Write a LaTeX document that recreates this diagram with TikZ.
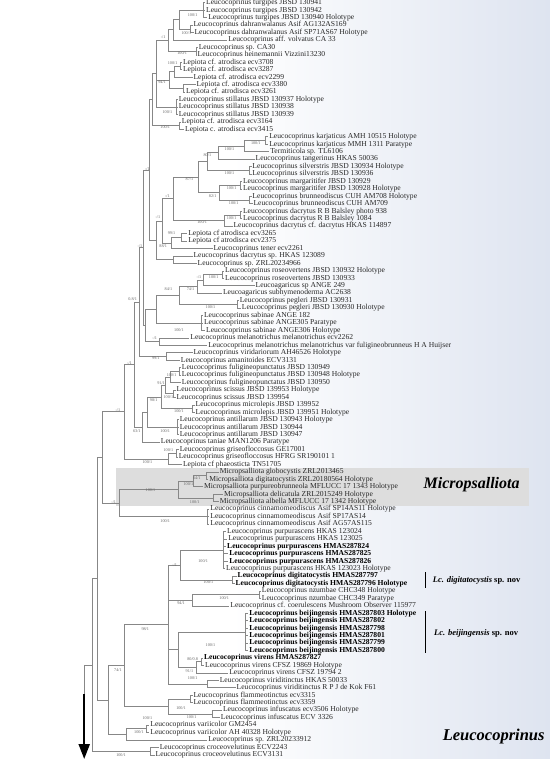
\documentclass[tikz,border=0pt]{standalone}
\usepackage{fontspec}
\setmainfont{Liberation Serif}
\usetikzlibrary{arrows.meta}
\definecolor{bgblue}{RGB}{222,228,240}
\definecolor{boxgray}{RGB}{221,221,221}
\definecolor{linegray}{RGB}{135,135,135}
\definecolor{txtc}{RGB}{40,40,40}
\newcommand\leafN[4]{\node[leaf] (#1) at (#2,#3) {#4};}
\newcommand\leafB[4]{\node[leafb] (#1) at (#2,#3) {#4};}
\newcommand\kidsOf[2]{\foreach \kk in {#2}{\draw[brl] (#1) |- (\kk);}}
\newcommand\supv[4]{\node[supl] (#1) at (#2,#3) {#4};}
\begin{document}
\begin{tikzpicture}[x=1.05263pt,y=-1pt,
 leaf/.style={anchor=west,inner xsep=0.7pt,inner ysep=0pt,text height=5.2pt,text depth=1.4pt,font=\fontsize{7.6}{8}\selectfont,text=txtc},
 leafb/.style={leaf,font=\fontsize{7.6}{8}\selectfont\bfseries,text=black},
 supl/.style={inner sep=0pt,font=\fontsize{4.2}{4.2}\selectfont,text=black!60},
 brl/.style={draw=linegray,line width=0.5pt},
 biglab/.style={inner sep=0pt,font=\fontsize{16}{16}\selectfont\bfseries\itshape,text=black},
 splab/.style={anchor=west,inner sep=0pt,font=\fontsize{8.5}{9}\selectfont\bfseries,text=black},
 bar/.style={line width=1.3pt,draw=black}]
\useasboundingbox (0,0) rectangle (522.5,759);
\fill[white] (0,0) rectangle (522.5,759);
\shade[left color=white,right color=bgblue] (220,0) rectangle (522.5,759);
\fill[boxgray] (110,468) rectangle (503,505.5);
% leaves
\leafN{l1}{195}{2.7}{Leucocoprinus turgipes JBSD 130941}
\leafN{l2}{195}{10.15}{Leucocoprinus turgipes JBSD 130942}
\leafN{l3}{197}{17.59}{Leucocoprinus turgipes JBSD 130940 Holotype}
\leafN{l4}{183}{25.04}{Leucocoprinus dahranwalanus Asif AG132AS169}
\leafN{l5}{184}{32.48}{Leucocoprinus dahranwalanus Asif SP71AS67 Holotype}
\leafN{l6}{216}{39.93}{Leucocoprinus aff. volvatus CA 33}
\leafN{l7}{188}{47.38}{Leucocoprinus sp. CA30}
\leafN{l8}{187}{54.82}{Leucocoprinus heinemannii Vizzini13230}
\leafN{l9}{173}{62.27}{Lepiota cf. atrodisca ecv3708}
\leafN{l10}{173}{69.71}{Lepiota cf. atrodisca ecv3287}
\leafN{l11}{183}{77.16}{Lepiota cf. atrodisca ecv2299}
\leafN{l12}{186}{84.61}{Lepiota cf. atrodisca ecv3380}
\leafN{l13}{176}{92.05}{Lepiota cf. atrodisca ecv3261}
\leafN{l14}{169}{99.5}{Leucocoprinus stillatus JBSD 130937 Holotype}
\leafN{l15}{169}{106.94}{Leucocoprinus stillatus JBSD 130938}
\leafN{l16}{169}{114.39}{Leucocoprinus stillatus JBSD 130939}
\leafN{l17}{172}{121.84}{Lepiota cf. atrodisca ecv3164}
\leafN{l18}{175}{129.28}{Lepiota c. atrodisca ecv3415}
\leafN{l19}{255}{136.73}{Leucocoprinus karjaticus AMH 10515 Holotype}
\leafN{l20}{255}{144.17}{Leucocoprinus karjaticus MMH 1311 Paratype}
\leafN{l21}{256}{151.62}{Termiticola sp. TL6106}
\leafN{l22}{242}{159.07}{Leucocoprinus tangerinus HKAS 50036}
\leafN{l23}{239}{166.51}{Leucocoprinus silverstris JBSD 130934 Holotype}
\leafN{l24}{239}{173.96}{Leucocoprinus silverstris JBSD 130936}
\leafN{l25}{230}{181.4}{Leucocoprinus margaritifer JBSD 130929}
\leafN{l26}{230}{188.85}{Leucocoprinus margaritifer JBSD 130928 Holotype}
\leafN{l27}{239}{196.3}{Leucocoprinus brunneodiscus CUH AM708 Holotype}
\leafN{l28}{240}{203.74}{Leucocoprinus brunneodiscus CUH AM709}
\leafN{l29}{230}{211.19}{Leucocoprinus dacrytus R B Balsley photo 938}
\leafN{l30}{230}{218.63}{Leucocoprinus dacrytus R B Balsley 1084}
\leafN{l31}{221}{226.08}{Leucocoprinus dacrytus cf. dacrytus HKAS 114897}
\leafN{l32}{178}{233.53}{Lepiota cf atrodisca ecv3265}
\leafN{l33}{178}{240.97}{Lepiota cf atrodisca ecv2375}
\leafN{l34}{202}{248.42}{Leucocoprinus tener ecv2261}
\leafN{l35}{183}{255.86}{Leucocoprinus dacrytus sp. HKAS 123089}
\leafN{l36}{187}{263.31}{Leucocoprinus sp. ZRL20234966}
\leafN{l37}{213}{270.76}{Leucocoprinus roseovertens JBSD 130932 Holotype}
\leafN{l38}{213}{278.2}{Leucocoprinus roseovertens JBSD 130933}
\leafN{l39}{242}{285.65}{Leucoagaricus sp ANGE 249}
\leafN{l40}{211}{293.09}{Leucoagaricus subhymenoderma AC2638}
\leafN{l41}{227}{300.54}{Leucocoprinus pegleri JBSD 130931}
\leafN{l42}{229}{307.99}{Leucocoprinus pegleri JBSD 130930 Holotype}
\leafN{l43}{193}{315.43}{Leucocoprinus sabinae ANGE 182}
\leafN{l44}{193}{322.88}{Leucocoprinus sabinae ANGE305 Paratype}
\leafN{l45}{195}{330.32}{Leucocoprinus sabinae ANGE306 Holotype}
\leafN{l46}{180}{337.77}{Leucocoprinus melanotrichus melanotrichus ecv2262}
\leafN{l47}{197}{345.22}{Leucocoprinus melanotrichus melanotrichus var fuligineobrunneus H A Huijser}
\leafN{l48}{183}{352.66}{Leucocoprinus viridariorum AH46526 Holotype}
\leafN{l49}{171}{360.11}{Leucocoprinus amanitoides ECV3131}
\leafN{l50}{172}{367.55}{Leucocoprinus fuligineopunctatus JBSD 130949}
\leafN{l51}{172}{375}{Leucocoprinus fuligineopunctatus JBSD 130948 Holotype}
\leafN{l52}{172}{382.45}{Leucocoprinus fuligineopunctatus JBSD 130950}
\leafN{l53}{167}{389.89}{Leucocoprinus scissus JBSD 139953 Holotype}
\leafN{l54}{167}{397.34}{Leucocoprinus scissus JBSD 139954}
\leafN{l55}{185}{404.78}{Leucocoprinus microlepis JBSD 139952}
\leafN{l56}{185}{412.23}{Leucocoprinus microlepis JBSD 139951 Holotype}
\leafN{l57}{170}{419.68}{Leucocoprinus antillarum JBSD 130943 Holotype}
\leafN{l58}{170}{427.12}{Leucocoprinus antillarum JBSD 130944}
\leafN{l59}{170}{434.57}{Leucocoprinus antillarum JBSD 130947}
\leafN{l60}{152}{442.01}{Leucocoprinus taniae MAN1206 Paratype}
\leafN{l61}{170}{449.46}{Leucocoprinus griseofloccosus GE17001}
\leafN{l62}{169}{456.91}{Leucocoprinus griseofloccosus HFRG SR190101 1}
\leafN{l63}{173}{464.35}{Lepiota cf phaeosticta TN51705}
\leafN{l64}{208}{471.8}{Micropsalliota globocystis ZRL2013465}
\leafN{l65}{198}{479.24}{Micropsalliota digitatocystis ZRL20180564 Holotype}
\leafN{l66}{193}{486.69}{Micropsalliota purpureobrunneola MFLUCC 17 1343 Holotype}
\leafN{l67}{212}{494.14}{Micropsalliota delicatula ZRL2015249 Holotype}
\leafN{l68}{208}{501.58}{Micropsalliota albella MFLUCC 17 1342 Holotype}
\leafN{l69}{199}{509.03}{Leucocoprinus cinnamomeodiscus Asif SP14AS11 Holotype}
\leafN{l70}{199}{516.47}{Leucocoprinus cinnamomeodiscus Asif SP17AS14}
\leafN{l71}{199}{523.92}{Leucocoprinus cinnamomeodiscus Asif AG57AS115}
\leafN{l72}{215}{531.37}{Leucocoprinus purpurascens HKAS 123024}
\leafN{l73}{216}{538.81}{Leucocoprinus purpurascens HKAS 123025}
\leafB{l74}{215}{546.26}{Leucocoprinus purpurascens HMAS287824}
\leafB{l75}{217}{553.7}{Leucocoprinus purpurascens HMAS287825}
\leafB{l76}{217}{561.15}{Leucocoprinus purpurascens HMAS287826}
\leafN{l77}{214}{568.6}{Leucocoprinus purpurascens HKAS 123023 Holotype}
\leafB{l78}{225}{576.04}{Leucocoprinus digitatocystis HMAS287797}
\leafB{l79}{223}{583.49}{Leucocoprinus digitatocystis HMAS287796 Holotype}
\leafN{l80}{248}{590.93}{Leucocoprinus nzumbae CHC348 Holotype}
\leafN{l81}{248}{598.38}{Leucocoprinus nzumbae CHC349 Paratype}
\leafN{l82}{218}{605.83}{Leucocoprinus cf. coerulescens Mushroom Observer 115977}
\leafB{l83}{236}{613.27}{Leucocoprinus beijingensis HMAS287803 Holotype}
\leafB{l84}{236}{620.72}{Leucocoprinus beijingensis HMAS287802}
\leafB{l85}{236}{628.16}{Leucocoprinus beijingensis HMAS287798}
\leafB{l86}{236}{635.61}{Leucocoprinus beijingensis HMAS287801}
\leafB{l87}{236}{643.06}{Leucocoprinus beijingensis HMAS287799}
\leafB{l88}{236}{650.5}{Leucocoprinus beijingensis HMAS287800}
\leafB{l89}{193}{657.95}{Leucocoprinus virens HMAS287827}
\leafN{l90}{194}{665.39}{Leucocoprinus virens CFSZ 19869 Holotype}
\leafN{l91}{217}{672.84}{Leucocoprinus virens CFSZ 19794 2}
\leafN{l92}{208}{680.29}{Leucocoprinus viriditinctus HKAS 50033}
\leafN{l93}{224}{687.73}{Leucocoprinus viriditinctus R P J de Kok F61}
\leafN{l94}{183}{695.18}{Leucocoprinus flammeotinctus ecv3315}
\leafN{l95}{183}{702.62}{Leucocoprinus flammeotinctus ecv3359}
\leafN{l96}{211}{710.07}{Leucocoprinus infuscatus ecv3506 Holotype}
\leafN{l97}{209}{717.52}{Leucocoprinus infuscatus ECV 3326}
\leafN{l98}{142}{724.96}{Leucocoprinus variicolor GM2454}
\leafN{l99}{142}{732.41}{Leucocoprinus variicolor AH 40328 Holotype}
\leafN{l100}{197}{739.85}{Leucocoprinus sp. ZRL20233912}
\leafN{l101}{151}{747.3}{Leucocoprinus croceovelutinus ECV2243}
\leafN{l102}{147}{754.75}{Leucocoprinus croceovelutinus ECV3131}
% internal nodes
\coordinate (turg) at (193,10.15);
\coordinate (dahr) at (181,28.76);
\coordinate (A1) at (170,19.46);
\coordinate (nB) at (165,29.7);
\coordinate (CA) at (186,51.1);
\coordinate (nC) at (160,40.4);
\coordinate (nE) at (171,65.99);
\coordinate (nF) at (166,71.58);
\coordinate (nG) at (174,88.33);
\coordinate (nH) at (161,79.96);
\coordinate (nS) at (167,106.94);
\coordinate (nI) at (148,73.67);
\coordinate (nJ) at (170,125.56);
\coordinate (nK) at (145,99.6);
\coordinate (karj) at (252,140.45);
\coordinate (M1) at (232,146.03);
\coordinate (M2) at (207,152.55);
\coordinate (sil) at (237,170.24);
\coordinate (M3) at (197,161.4);
\coordinate (marg) at (228,185.13);
\coordinate (brun) at (237,200.02);
\coordinate (N1) at (208,192.57);
\coordinate (N2) at (188,176.99);
\coordinate (dac) at (228,214.91);
\coordinate (D2) at (213,220.5);
\coordinate (N3) at (165,198.75);
\coordinate (lep2) at (172,237.25);
\coordinate (ten) at (163,242.84);
\coordinate (N4) at (154,220.8);
\coordinate (O1) at (165,259.59);
\coordinate (O2) at (148,240.2);
\coordinate (nQ) at (142,169.9);
\coordinate (R1) at (211,274.48);
\coordinate (R2) at (193,280.07);
\coordinate (R3) at (187,286.58);
\coordinate (P1) at (225,304.27);
\coordinate (R4) at (170,295.42);
\coordinate (Sab) at (191,322.88);
\coordinate (T1) at (148,309.15);
\coordinate (Me) at (151,341.5);
\coordinate (T2) at (138,325.3);
\coordinate (nX) at (136,247.6);
\coordinate (Vir) at (158,356.39);
\coordinate (nY) at (132,302);
\coordinate (f1) at (170,371.28);
\coordinate (f2) at (162,376.86);
\coordinate (sci) at (165,393.62);
\coordinate (F4) at (157,385.24);
\coordinate (mic) at (183,408.51);
\coordinate (F5) at (153,396.88);
\coordinate (ant) at (168,427.12);
\coordinate (F6) at (140,412);
\coordinate (F7) at (135,427);
\coordinate (Z1) at (128,364.5);
\coordinate (gris) at (167,453.19);
\coordinate (G2) at (160,458.77);
\coordinate (Z2) at (118,411.6);
\coordinate (Mi1) at (196,475.52);
\coordinate (Mi2) at (184,481.1);
\coordinate (Mi3) at (203,497.86);
\coordinate (Mi4) at (169,489.5);
\coordinate (Cin) at (197,516.47);
\coordinate (Mi5) at (113,503);
\coordinate (Z3) at (97,457.3);
\coordinate (Pu) at (212,549.99);
\coordinate (Dig) at (221,579.77);
\coordinate (Pu2) at (171,564.88);
\coordinate (Nz) at (246,594.66);
\coordinate (NzC) at (183,600.25);
\coordinate (Bj) at (233,631.89);
\coordinate (V1) at (191,661.67);
\coordinate (V2) at (186,667.26);
\coordinate (B2) at (169,649.58);
\coordinate (Vt) at (197,684.01);
\coordinate (Bp) at (160,624.45);
\coordinate (Flam) at (181,698.9);
\coordinate (Inf) at (202,713.8);
\coordinate (FI) at (160,706.35);
\coordinate (B6) at (118,665.4);
\coordinate (Var) at (139,728.69);
\coordinate (VarZ) at (120,734.27);
\coordinate (B7) at (103,699.84);
\coordinate (Z4) at (92,578.57);
\coordinate (Cro) at (143,751.03);
\coordinate (Z5) at (88,664.8);
\coordinate (root) at (80,664.8);
\coordinate (arrstart) at (80,694);
\coordinate (arrend) at (80,759);
% branches
\kidsOf{turg}{l1,l2,l3}
\kidsOf{dahr}{l4,l5}
\kidsOf{A1}{turg,dahr}
\kidsOf{nB}{A1,l6}
\kidsOf{CA}{l7,l8}
\kidsOf{nC}{nB,CA}
\kidsOf{nE}{l9,l10}
\kidsOf{nF}{nE,l11}
\kidsOf{nG}{l12,l13}
\kidsOf{nH}{nF,nG}
\kidsOf{nS}{l14,l15,l16}
\kidsOf{nI}{nC,nH,nS}
\kidsOf{nJ}{l17,l18}
\kidsOf{nK}{nI,nJ}
\kidsOf{karj}{l19,l20}
\kidsOf{M1}{karj,l21}
\kidsOf{M2}{M1,l22}
\kidsOf{sil}{l23,l24}
\kidsOf{M3}{M2,sil}
\kidsOf{marg}{l25,l26}
\kidsOf{brun}{l27,l28}
\kidsOf{N1}{marg,brun}
\kidsOf{N2}{M3,N1}
\kidsOf{dac}{l29,l30}
\kidsOf{D2}{dac,l31}
\kidsOf{N3}{N2,D2}
\kidsOf{lep2}{l32,l33}
\kidsOf{ten}{lep2,l34}
\kidsOf{N4}{N3,ten}
\kidsOf{O1}{l35,l36}
\kidsOf{O2}{N4,O1}
\kidsOf{nQ}{nK,O2}
\kidsOf{R1}{l37,l38}
\kidsOf{R2}{R1,l39}
\kidsOf{R3}{R2,l40}
\kidsOf{P1}{l41,l42}
\kidsOf{R4}{R3,P1}
\kidsOf{Sab}{l43,l44,l45}
\kidsOf{T1}{R4,Sab}
\kidsOf{Me}{l46,l47}
\kidsOf{T2}{T1,Me}
\kidsOf{nX}{nQ,T2}
\kidsOf{Vir}{l48,l49}
\kidsOf{nY}{nX,Vir}
\kidsOf{f1}{l50,l51}
\kidsOf{f2}{f1,l52}
\kidsOf{sci}{l53,l54}
\kidsOf{F4}{f2,sci}
\kidsOf{mic}{l55,l56}
\kidsOf{F5}{F4,mic}
\kidsOf{ant}{l57,l58,l59}
\kidsOf{F6}{F5,ant}
\kidsOf{F7}{F6,l60}
\kidsOf{Z1}{nY,F7}
\kidsOf{gris}{l61,l62}
\kidsOf{G2}{gris,l63}
\kidsOf{Z2}{Z1,G2}
\kidsOf{Mi1}{l64,l65}
\kidsOf{Mi2}{Mi1,l66}
\kidsOf{Mi3}{l67,l68}
\kidsOf{Mi4}{Mi2,Mi3}
\kidsOf{Cin}{l69,l70,l71}
\kidsOf{Mi5}{Mi4,Cin}
\kidsOf{Z3}{Z2,Mi5}
\kidsOf{Pu}{l72,l73,l74,l75,l76,l77}
\kidsOf{Dig}{l78,l79}
\kidsOf{Pu2}{Pu,Dig}
\kidsOf{Nz}{l80,l81}
\kidsOf{NzC}{Nz,l82}
\kidsOf{Bj}{l83,l84,l85,l86,l87,l88}
\kidsOf{V1}{l89,l90}
\kidsOf{V2}{V1,l91}
\kidsOf{B2}{Bj,V2}
\kidsOf{Vt}{l92,l93}
\kidsOf{Bp}{Pu2,NzC,B2,Vt}
\kidsOf{Flam}{l94,l95}
\kidsOf{Inf}{l96,l97}
\kidsOf{FI}{Flam,Inf}
\kidsOf{B6}{Bp,FI}
\kidsOf{Var}{l98,l99}
\kidsOf{VarZ}{Var,l100}
\kidsOf{B7}{B6,VarZ}
\kidsOf{Z4}{Z3,B7}
\kidsOf{Cro}{l101,l102}
\kidsOf{Z5}{Z4,Cro}
\draw[brl] (root) -- (Z5);
\draw[brl] (root) -- (arrstart);
\draw[line width=2.2pt,-{Triangle[width=11pt,length=15pt]}] (arrstart) -- (arrend);
% support values
\supv{s1}{183}{15}{100/1}
\supv{s2}{177}{33}{100/1}
\supv{s3}{155}{37}{-/1}
\supv{s4}{173}{53}{100/1}
\supv{s5}{164}{63.5}{100/1}
\supv{s6}{154}{82.3}{94/1}
\supv{s7}{159}{112}{100/1}
\supv{s8}{157}{127.5}{100/1}
\supv{s9}{243}{142.7}{100/1}
\supv{s10}{218}{149.3}{100/1}
\supv{s11}{197}{155.3}{80/1}
\supv{s12}{218}{173.3}{100/1}
\supv{s13}{180}{179.3}{87/1}
\supv{s14}{140}{169.3}{-/1}
\supv{s15}{220}{187.7}{100/1}
\supv{s16}{202}{195.7}{82/1}
\supv{s17}{222}{203}{100/1}
\supv{s18}{159}{195.7}{-/1}
\supv{s19}{150}{217.3}{-/1}
\supv{s20}{220}{218}{100/1}
\supv{s21}{192}{222.3}{100/1}
\supv{s22}{163}{233.3}{99/1}
\supv{s23}{155}{246.3}{88/1}
\supv{s24}{133}{246.3}{-/1}
\supv{s25}{189}{277}{-/1}
\supv{s26}{203}{277}{100/1}
\supv{s27}{181}{289.3}{74/1}
\supv{s28}{160}{289.3}{84/1}
\supv{s29}{126}{298.7}{0.8/1}
\supv{s30}{200}{307}{100/1}
\supv{s31}{170}{330}{100/1}
\supv{s32}{147}{338.3}{-/1}
\supv{s33}{148}{357.7}{99/1}
\supv{s34}{123}{362.7}{-/1}
\supv{s35}{163}{375}{100/1}
\supv{s36}{153}{383}{91/1}
\supv{s37}{160}{397.3}{100/1}
\supv{s38}{146}{399.7}{98/1}
\supv{s39}{170}{411.3}{100/1}
\supv{s40}{112}{409.7}{-/1}
\supv{s41}{157}{431.3}{100/1}
\supv{s42}{130}{430.7}{63/1}
\supv{s43}{160}{450}{100/1}
\supv{s44}{140}{462}{100/1}
\supv{s45}{187}{477.7}{64/1}
\supv{s46}{179}{484.3}{100/1}
\supv{s47}{143}{490.3}{100/1}
\supv{s48}{185}{501.7}{100/1}
\supv{s49}{108}{501.7}{-/1}
\supv{s50}{157}{520.7}{100/1}
\supv{s51}{193}{561.3}{100/1}
\supv{s52}{166}{565}{-/1}
\supv{s53}{198}{582}{100/1}
\supv{s54}{213}{598}{100/1}
\supv{s55}{172}{603}{94/1}
\supv{s56}{138}{629.3}{98/1}
\supv{s57}{200}{645}{100/1}
\supv{s58}{183}{659}{80/0.8}
\supv{s59}{180}{670.7}{91/1}
\supv{s60}{112}{670}{74/1}
\supv{s61}{183}{677.7}{100/1}
\supv{s62}{172}{708}{100/1}
\supv{s63}{140}{718}{100/1}
\supv{s64}{182}{717}{100/1}
\supv{s65}{132}{732.3}{100/1}
\supv{s66}{115}{754.7}{100/1}
% clade labels
\node[biglab] (micro) at (448,484.5) {Micropsalliota};
\node[biglab,font=\fontsize{16.5}{17}\selectfont\bfseries\itshape] (leuco) at (469,736.3) {Leucocoprinus};
\coordinate (dbt) at (404,572);
\coordinate (dbb) at (404,588);
\draw[bar] (dbt) -- (dbb);
\node[splab] (dlab) at (411,580.5) {\textit{Lc. digitatocystis} sp. nov};
\coordinate (bbt) at (404.3,611);
\coordinate (bbb) at (404.3,653);
\draw[bar] (bbt) -- (bbb);
\node[splab] (blab) at (412.3,633) {\textit{Lc. beijingensis} sp. nov};
\end{tikzpicture}
\end{document}
